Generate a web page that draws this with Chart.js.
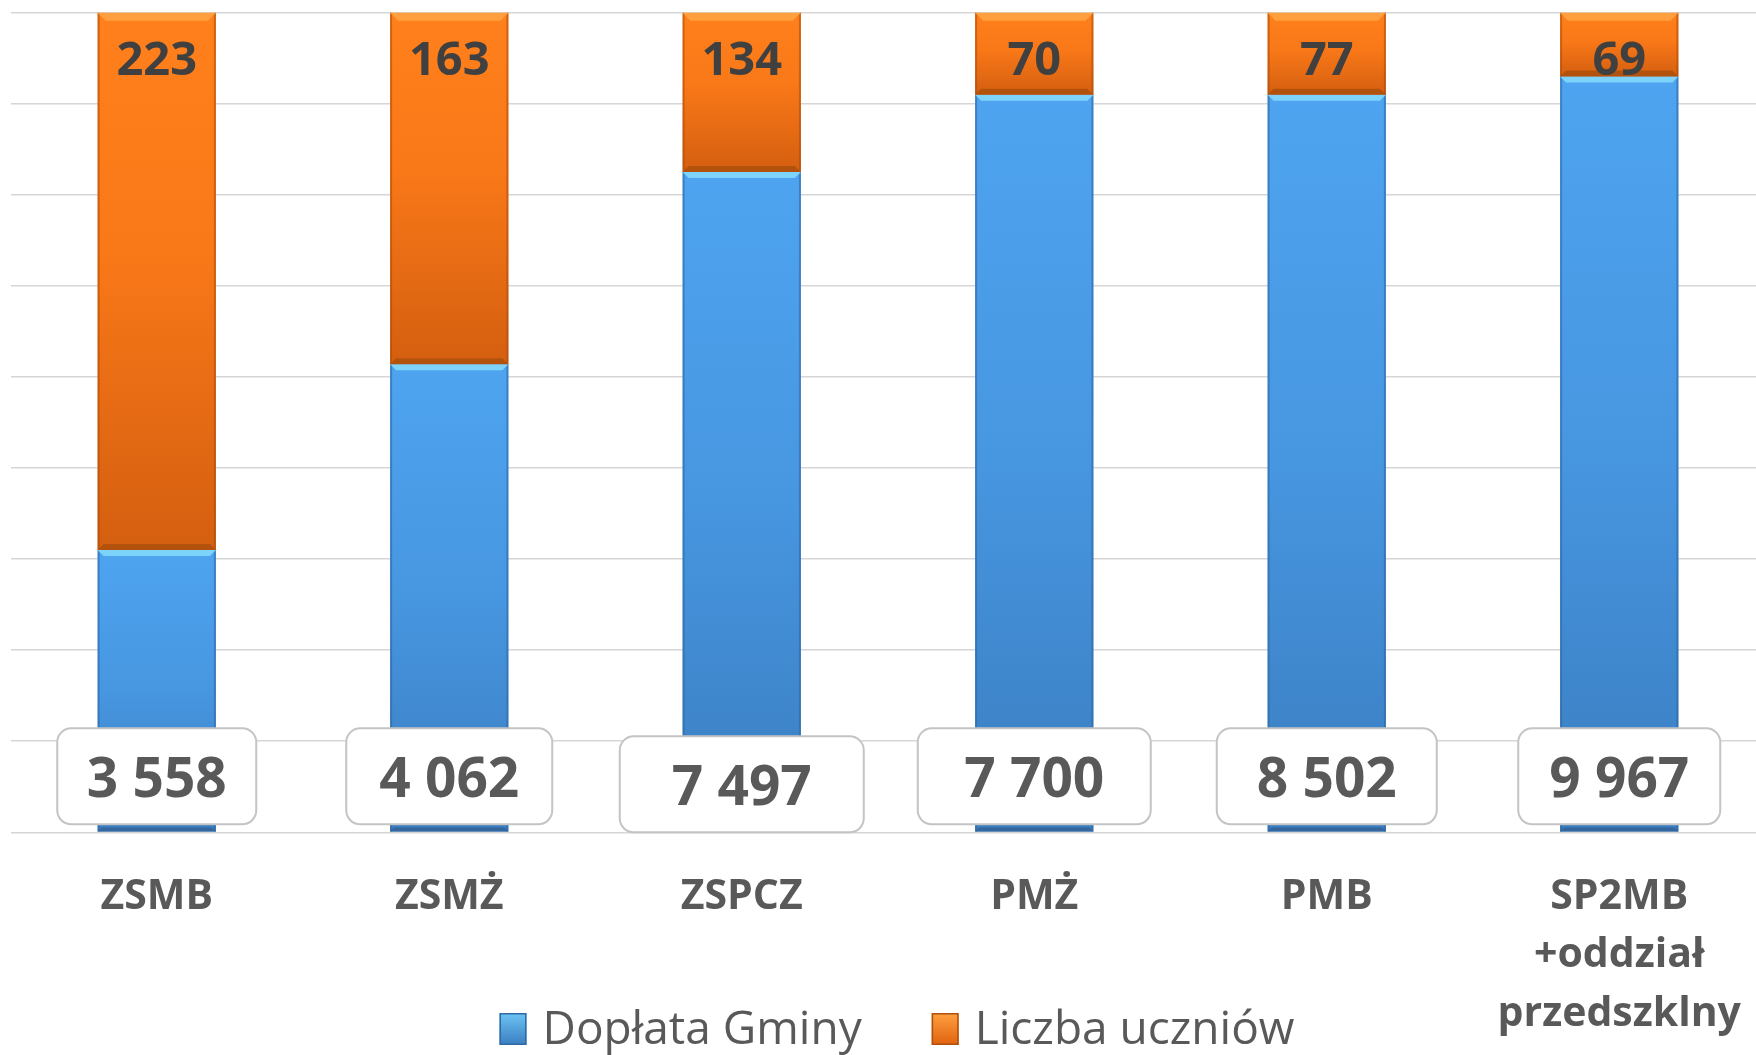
<!DOCTYPE html>
<html>
<head>
<meta charset="utf-8">
<script src="https://cdn.jsdelivr.net/npm/chart.js@4.4.1/dist/chart.umd.min.js"></script>
<style>
  html, body { margin: 0; padding: 0; background: #fff; overflow: hidden; }
  #wrap { width: 1776px; height: 1055px; }
</style>
</head>
<body>
<div id="wrap"><canvas id="chart" width="1776" height="1055"></canvas></div>
<script>
// categories (multi-line labels as arrays)
const schools = [['ZSMB'], ['ZSMŻ'], ['ZSPCZ'], ['PMŻ'], ['PMB'], ['SP2MB', '+oddział', 'przedszklny']];
// printed values
const doplataLabels = ['3 558', '4 062', '7 497', '7 700', '8 502', '9 967'];
const uczniowie = [223, 163, 134, 70, 77, 69];
// segment heights as drawn on the (unlabelled) axis, 9 grid steps
const doplataHeight = [3100, 5140, 7250, 8100, 8100, 8300];
const uczniowieHeight = [5900, 3860, 1750, 900, 900, 700];
const yMax = 9000;
const yStep = 1000;

const GREY = '#595959';

function barGradient(ctx, stops, fallback) {
    if (ctx.type !== 'data') return fallback;
    const chart = ctx.chart;
    const y = chart.scales.y;
    if (!y) return fallback;
    const i = ctx.dataIndex;
    let from = 0, to = doplataHeight[i];
    if (ctx.datasetIndex === 1) { from = doplataHeight[i]; to = from + uczniowieHeight[i]; }
    const y0 = y.getPixelForValue(to), y1 = y.getPixelForValue(from);
    if (!isFinite(y0) || !isFinite(y1) || y0 === y1) return fallback;
    const g = chart.ctx.createLinearGradient(0, y0, 0, y1);
    stops.forEach(s => g.addColorStop(s[0], s[1]));
    return g;
}

const blueStops = [[0, '#4ea4f0'], [0.5, '#4796e0'], [1, '#3a7dc0']];
const orangeStops = [[0, '#ff801c'], [0.45, '#f97818'], [1, '#d45f10']];

// bevel / edge shading on every bar segment
const bevelPlugin = {
    id: 'bevel',
    afterDatasetsDraw(chart) {
        const c = chart.ctx;
        chart.data.datasets.forEach((ds, di) => {
            const meta = chart.getDatasetMeta(di);
            const st = ds.bevel;
            meta.data.forEach(bar => {
                const { x, y, base, width } = bar.getProps(['x', 'y', 'base', 'width'], true);
                const l = x - width / 2, r = x + width / 2;
                c.save();
                c.fillStyle = st.side;
                c.fillRect(l, y, 2, base - y);
                c.fillRect(r - 2, y, 2, base - y);
                c.fillStyle = st.top;
                c.beginPath();
                c.moveTo(l, y); c.lineTo(r, y);
                c.lineTo(r - st.topH, y + st.topH); c.lineTo(l + st.topH, y + st.topH);
                c.closePath(); c.fill();
                c.fillStyle = st.bottom;
                c.beginPath();
                c.moveTo(l, base); c.lineTo(r, base);
                c.lineTo(r - st.botH, base - st.botH); c.lineTo(l + st.botH, base - st.botH);
                c.closePath(); c.fill();
                c.restore();
            });
        });
    }
};

// value labels: boxed totals at the foot of blue bars, counts at the top of orange bars
const labelPlugin = {
    id: 'valueLabels',
    afterDatasetsDraw(chart, args, opts) {
        const c = chart.ctx;
        const area = chart.chartArea;
        const blue = chart.getDatasetMeta(0).data;
        const orange = chart.getDatasetMeta(1).data;

        c.save();
        c.font = 'bold 55px "Open Sans"';
        const capBig = c.measureText('0').actualBoundingBoxAscent;
        blue.forEach((bar, i) => {
            const w = opts.boxWidths[i], h = 96;
            const cy = area.bottom - 56 + opts.boxShift[i];
            c.beginPath();
            c.roundRect(bar.x - w / 2, cy - h / 2, w, h, 14);
            c.fillStyle = '#ffffff';
            c.fill();
            c.lineWidth = 2;
            c.strokeStyle = '#c4c4c4';
            c.stroke();
            c.fillStyle = GREY;
            c.textAlign = 'center';
            c.textBaseline = 'alphabetic';
            c.fillText(doplataLabels[i], bar.x, cy + capBig / 2);
        });

        c.font = 'bold 47px "Open Sans"';
        const capSmall = c.measureText('0').actualBoundingBoxAscent;
        orange.forEach((bar, i) => {
            c.fillStyle = '#404040';
            c.textAlign = 'center';
            c.textBaseline = 'alphabetic';
            c.fillText(String(uczniowie[i]), bar.x, bar.y + 45 + capSmall / 2);
        });
        c.restore();
    }
};

// legend drawn under the axis labels (overlaps the label band as in the original)
const legendPlugin = {
    id: 'bottomLegend',
    afterDraw(chart, args, opts) {
        const c = chart.ctx;
        c.save();
        c.font = '46px "Open Sans"';
        const items = chart.data.datasets.map(ds => ({ text: ds.label, color: ds.legendColor }));
        const boxW = 27, boxH = 32, gap = 16, itemGap = 70;
        let total = 0;
        items.forEach((it, k) => {
            it.w = c.measureText(it.text).width;
            total += boxW + gap + it.w + (k ? itemGap : 0);
        });
        let x = opts.centerX - total / 2;
        items.forEach(it => {
            const g = c.createLinearGradient(0, opts.baseline - boxH + 1, 0, opts.baseline + 1);
            g.addColorStop(0, it.color[0]);
            g.addColorStop(1, it.color[1]);
            c.fillStyle = g;
            c.fillRect(x, opts.baseline - boxH + 1, boxW, boxH);
            c.strokeStyle = it.color[2];
            c.lineWidth = 1.5;
            c.strokeRect(x + 0.75, opts.baseline - boxH + 1.75, boxW - 1.5, boxH - 1.5);
            x += boxW + gap;
            c.fillStyle = GREY;
            c.textAlign = 'left';
            c.textBaseline = 'alphabetic';
            c.fillText(it.text, x, opts.baseline);
            x += it.w + itemGap;
        });
        c.restore();
    }
};

new Chart(document.getElementById('chart'), {
    type: 'bar',
    data: {
        labels: schools,
        datasets: [
            {
                label: 'Dopłata Gminy',
                data: doplataHeight,
                backgroundColor: ctx => barGradient(ctx, blueStops, '#4796e0'),
                legendColor: ['#6cc4f5', '#3a7dc0', '#2f6aa5'],
                bevel: { top: '#7dd3fa', bottom: '#33679d', side: 'rgba(45,100,160,0.55)', topH: 6, botH: 4 }
            },
            {
                label: 'Liczba uczniów',
                data: uczniowieHeight,
                backgroundColor: ctx => barGradient(ctx, orangeStops, '#f97818'),
                legendColor: ['#ffa040', '#e0620f', '#b0500c'],
                bevel: { top: '#ff9f3e', bottom: '#b3520d', side: 'rgba(170,75,10,0.55)', topH: 8, botH: 6 }
            }
        ]
    },
    options: {
        responsive: false,
        animation: false,
        layout: { padding: { top: 12.7, left: 10.5, right: 10.5, bottom: 0 } },
        datasets: { bar: { barPercentage: 0.4045, categoryPercentage: 1, borderWidth: 0 } },
        scales: {
            x: {
                stacked: true,
                grid: { display: false },
                border: { display: false },
                afterFit: axis => { axis.height = 222.7; },
                ticks: {
                    autoSkip: false,
                    maxRotation: 0,
                    padding: 28,
                    color: GREY,
                    font: { family: 'Open Sans', size: 41, weight: 'bold', lineHeight: 1.42 }
                }
            },
            y: {
                stacked: true,
                min: 0,
                max: yMax,
                border: { display: false },
                grid: { color: '#d6d6d6', lineWidth: 1.5, drawTicks: false },
                ticks: { display: false, stepSize: yStep }
            }
        },
        plugins: {
            legend: { display: false },
            tooltip: { enabled: false },
            valueLabels: { boxWidths: [199, 206, 244, 233, 220, 202], boxShift: [0, 0, 8, 0, 0, 0] },
            bottomLegend: { centerX: 897, baseline: 1044 }
        }
    },
    plugins: [bevelPlugin, labelPlugin, legendPlugin]
});
</script>
</body>
</html>
